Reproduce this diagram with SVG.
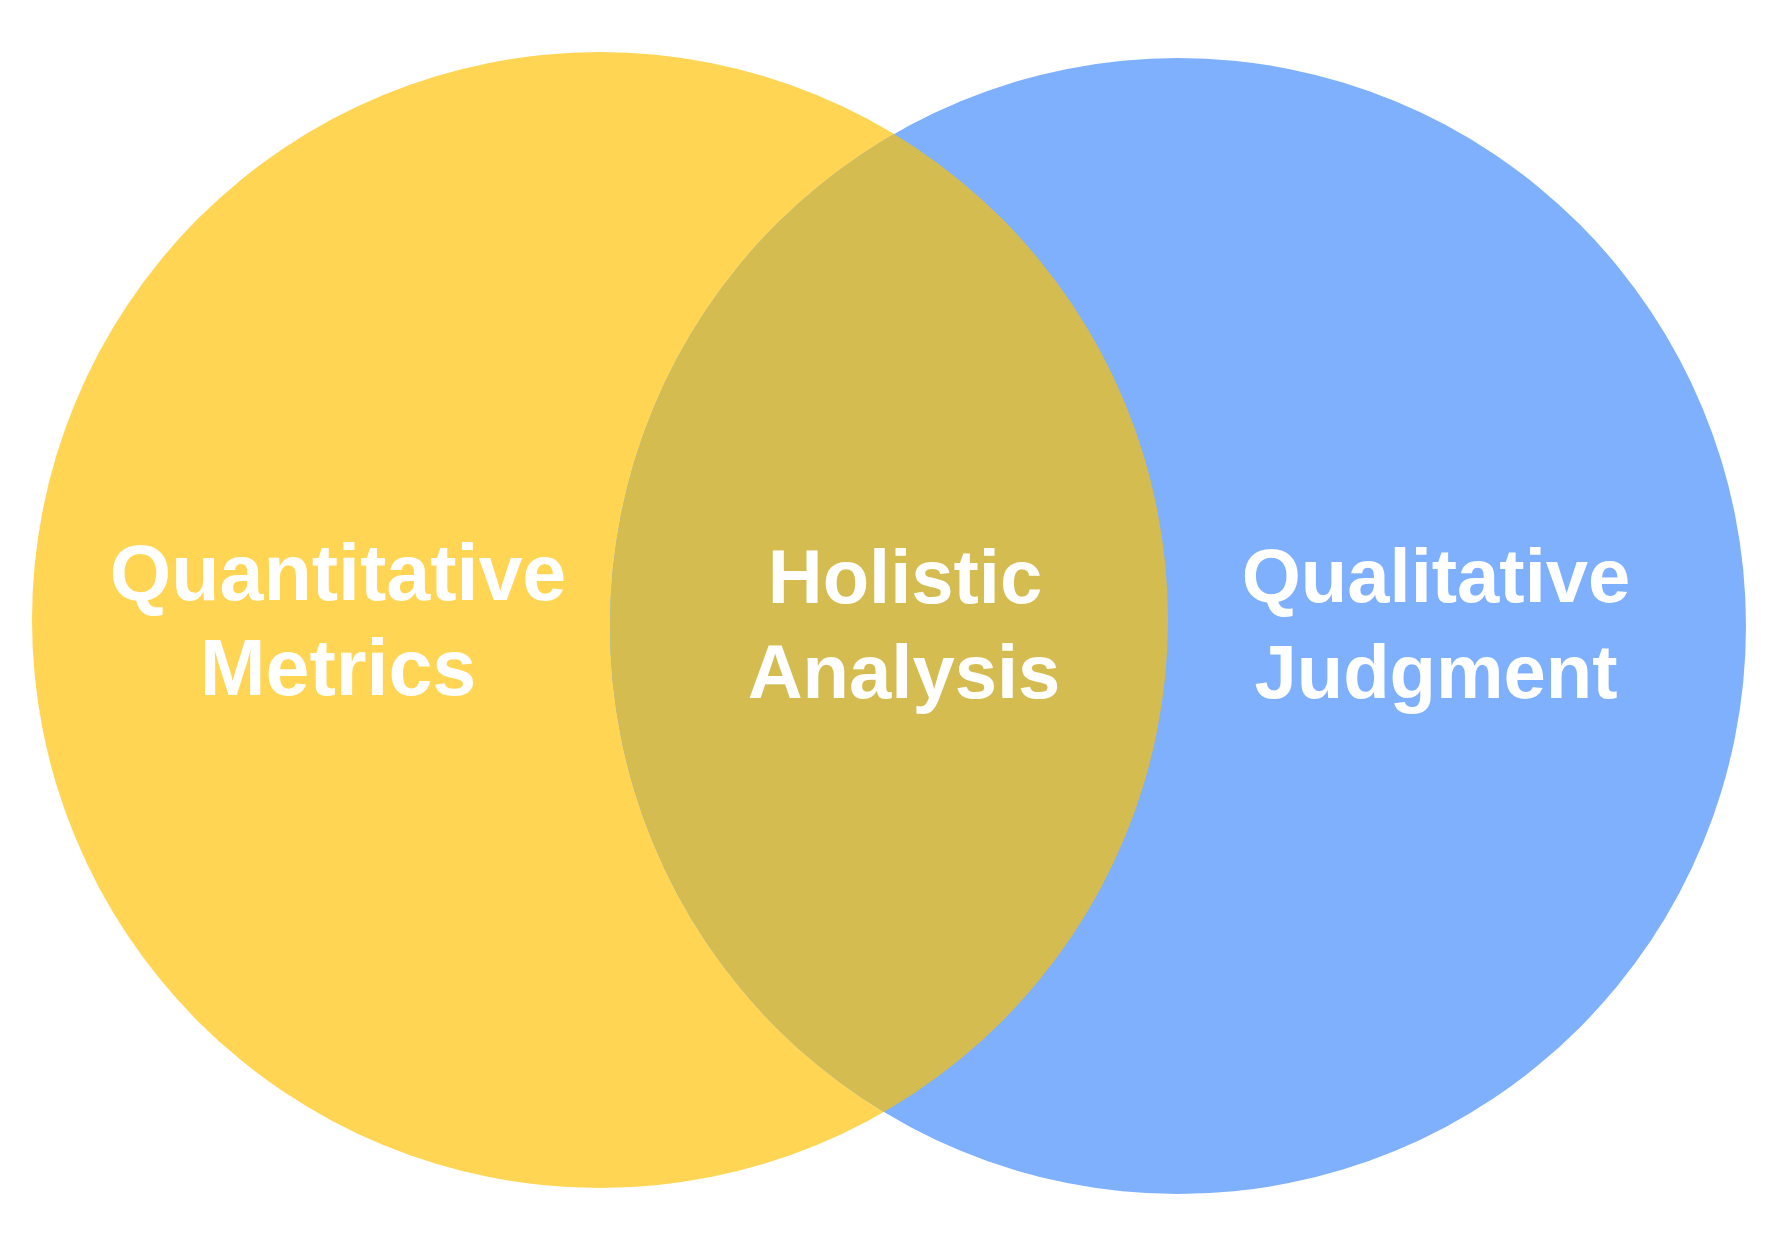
<svg xmlns="http://www.w3.org/2000/svg" width="1786" height="1240" viewBox="0 0 1786 1240">
<style>
.lbl{fill:#FFFFFF;text-anchor:middle;font-weight:bold;font-family:"Liberation Sans",Arial,sans-serif;}
.side{font-size:79px;}
.right{font-size:76px;}
.mid{font-size:76px;}
</style>
<defs>
<clipPath id="clipLeft"><circle cx="600" cy="620" r="568"/></clipPath>
</defs>
<rect width="1786" height="1240" fill="#FFFFFF"/>
<g id="set-quantitative">
<circle cx="600" cy="620" r="568" fill="#FFD553"/>
</g>
<g id="set-qualitative">
<circle cx="1178" cy="626" r="568" fill="#7EB0FD"/>
</g>
<g id="set-overlap">
<circle cx="1178" cy="626" r="568" fill="#D5BC50" clip-path="url(#clipLeft)"/>
</g>
<g id="connectors"></g>
<g id="label-quantitative">
<text class="lbl side" x="338" y="600">Quantitative</text>
<text class="lbl side" x="338" y="695">Metrics</text>
</g>
<g id="label-holistic">
<text class="lbl mid" x="905" y="603">Holistic</text>
<text class="lbl mid" x="904" y="698">Analysis</text>
</g>
<g id="label-qualitative">
<text class="lbl right" x="1436" y="602">Qualitative</text>
<text class="lbl right" x="1436" y="698">Judgment</text>
</g>
</svg>
